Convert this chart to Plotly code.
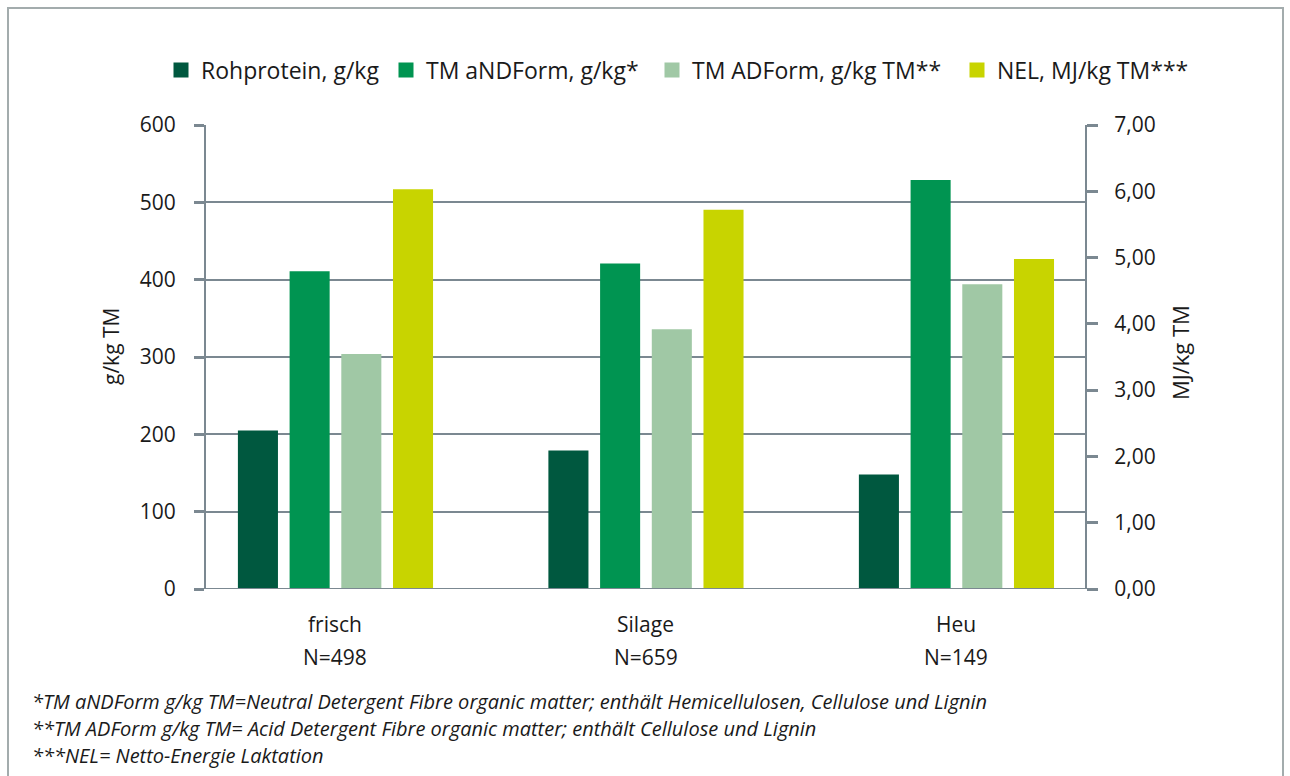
import plotly.graph_objects as go

# Futtermittel-Kategorien und Stichprobengrößen
categories = ["frisch", "Silage", "Heu"]
sample_sizes = ["N=498", "N=659", "N=149"]

# Inhaltsstoffe je Kategorie
rohprotein = [205, 179, 148]        # g/kg
andform = [411, 421, 529]           # g/kg TM
adform = [304, 336, 394]            # g/kg TM
nel = [6.03, 5.72, 4.98]            # MJ/kg TM (rechte Achse)

series_names = [
    "Rohprotein, g/kg",
    "TM aNDForm, g/kg*",
    "TM ADForm, g/kg TM**",
    "NEL, MJ/kg TM***",
]
series_colors = ["#00583f", "#009451", "#a0c8a5", "#c8d400"]

footnotes = [
    "*TM aNDForm g/kg TM=Neutral Detergent Fibre organic matter; enthält Hemicellulosen, Cellulose und Lignin",
    "**TM ADForm g/kg TM= Acid Detergent Fibre organic matter; enthält Cellulose und Lignin",
    "***NEL= Netto-Energie Laktation",
]

FONT = "Open Sans"
TXT = "#1a1a1a"
GRID = "#7b8891"
W, H = 1290, 776
L, R, T, B = 206, 205, 125, 187
PW, PH = W - L - R, H - T - B

# horizontale Position (px) der Legendensymbole
legend_symbol_px = [181, 406, 672, 977]

def px_x(px):
    return (px - L) / PW

def px_y(py):
    return (H - B - py) / PH

x = list(range(len(categories)))
bar_w = 0.129
step = 0.1665

fig = go.Figure()
all_values = [rohprotein, andform, adform, nel]
legend_ids = ["legend", "legend2", "legend3", "legend4"]
for i, (name, vals, col) in enumerate(zip(series_names, all_values, series_colors)):
    axis = "y2" if i == 3 else "y"
    fig.add_trace(go.Bar(
        x=x, y=vals, name=name, showlegend=False,
        marker=dict(color=col, line=dict(width=0)),
        width=bar_w,
        offset=(i - 1.5) * step - bar_w / 2,
        yaxis=axis,
    ))
    # Legendeneintrag mit quadratischem Symbol
    fig.add_trace(go.Scatter(
        x=[None], y=[None], name=name, mode="markers",
        marker=dict(symbol="square", size=15, color=col),
        yaxis=axis, legend=legend_ids[i],
    ))

annotations = []
for xi, cat, n in zip(x, categories, sample_sizes):
    annotations.append(dict(x=xi, y=px_y(624), xref="x", yref="paper", text=cat,
                            showarrow=False, font=dict(size=21, color=TXT, family=FONT),
                            xanchor="center", yanchor="middle"))
    annotations.append(dict(x=xi, y=px_y(657), xref="x", yref="paper", text=n,
                            showarrow=False, font=dict(size=21, color=TXT, family=FONT),
                            xanchor="center", yanchor="middle"))

# Achsentitel
annotations.append(dict(x=px_x(95), y=px_y(347), xref="paper", yref="paper", text="g/kg TM",
                        textangle=-90, showarrow=False,
                        font=dict(size=21, color=TXT, family=FONT)))
annotations.append(dict(x=px_x(1197), y=px_y(353), xref="paper", yref="paper", text="MJ/kg TM",
                        textangle=-90, showarrow=False,
                        font=dict(size=22, color=TXT, family=FONT)))

# Fußnoten
for k, txt in enumerate(footnotes):
    annotations.append(dict(x=px_x(30), y=px_y(701 + 27 * k), xref="paper", yref="paper",
                            text=txt, showarrow=False, xanchor="left", yanchor="middle",
                            font=dict(size=20, color=TXT, family=FONT, style="italic")))

legend_layout = {}
for lid, sx in zip(legend_ids, legend_symbol_px):
    legend_layout[lid] = dict(
        orientation="h", x=px_x(sx - 20), y=px_y(70), xanchor="left", yanchor="middle",
        font=dict(size=23, family=FONT, color=TXT), itemsizing="trace",
        bgcolor="rgba(0,0,0,0)",
    )

fig.update_layout(
    width=W, height=H,
    margin=dict(l=L, r=R, t=T, b=B),
    paper_bgcolor="white", plot_bgcolor="white",
    separators=",.",
    barmode="overlay",
    font=dict(family=FONT, size=20, color=TXT),
    showlegend=True,
    xaxis=dict(range=[-0.417, 2.414], showticklabels=False, showgrid=False, zeroline=False,
               showline=False, ticks=""),
    yaxis=dict(range=[0, 600], dtick=100, showgrid=True, gridcolor=GRID, gridwidth=2,
               zeroline=False, showline=True, linecolor=GRID, linewidth=2,
               ticks="outside", ticklen=10, tickwidth=3, tickcolor=GRID,
               ticklabelstandoff=14,
               tickfont=dict(size=21, family=FONT, color=TXT)),
    yaxis2=dict(range=[0, 7], dtick=1, tickformat=".2f", overlaying="y", side="right",
                showgrid=False, zeroline=False, showline=True, linecolor=GRID, linewidth=2,
                ticks="outside", ticklen=11, tickwidth=3, tickcolor=GRID,
                ticklabelstandoff=12,
                tickfont=dict(size=21, family=FONT, color=TXT)),
    annotations=annotations,
    shapes=[
        # Rahmen um die Grafik
        dict(type="rect", xref="paper", yref="paper",
             x0=px_x(8), x1=px_x(1283), y0=px_y(790), y1=px_y(8),
             line=dict(color="#a3acad", width=2), fillcolor="rgba(0,0,0,0)", layer="below"),
        # Nulllinie
        dict(type="line", xref="paper", yref="y", x0=0, x1=1, y0=0, y1=0,
             line=dict(color=GRID, width=2), layer="above"),
    ],
    **legend_layout,
)

fig.write_html("out.html")
